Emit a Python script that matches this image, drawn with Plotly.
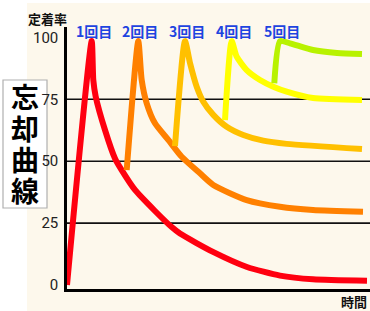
import plotly.graph_objects as go

# ---- data (time units, retention %) ----
red_x = [0, 24.7, 26.3, 28.7, 38, 48, 54.7, 68, 88, 104.7, 113, 146, 180, 213, 246, 300]
red_y = [0, 98.5, 82.8, 76.1, 62.6, 51.1, 46.4, 38.4, 29.9, 23.4, 20.8, 13.4, 7.3, 3.8, 2.3, 1.7]

orange_x = [59.7, 71.3, 74.7, 79.7, 88, 101.3, 114.7, 133, 146.3, 179.7, 213, 246, 296]
orange_y = [46.4, 98.5, 82.8, 73.4, 65.3, 58.6, 51.8, 45.1, 40.4, 34.3, 31.6, 30.3, 29.6]

amber_x = [108, 118, 123, 129.7, 136.3, 146.3, 159.7, 176.3, 196.3, 219.7, 295]
amber_y = [56.1, 98.5, 89.7, 80.1, 74.0, 68.7, 63.9, 60.6, 58.3, 57.0, 54.9]

yellow_x = [158, 164.7, 169.7, 179.7, 193, 206.3, 219.7, 246, 295]
yellow_y = [66.6, 98.5, 92.2, 86.8, 82.8, 80.1, 78.1, 75.5, 74.7]

green_x = [207.3, 213, 223, 246, 270, 295]
green_y = [81.5, 98.5, 97.6, 94.9, 93.7, 93.3]

series = [
    (red_x, red_y, "#FF0010"),
    (orange_x, orange_y, "#FF8000"),
    (amber_x, amber_y, "#FFC000"),
    (yellow_x, yellow_y, "#FFFF00"),
    (green_x, green_y, "#B8F200"),
]

review_labels = ["1回目", "2回目", "3回目", "4回目", "5回目"]
y_ticks = [0, 25, 50, 75, 100]
grid_vals = [25, 50, 75]
title_chars = ["忘", "却", "曲", "線"]

fig = go.Figure()
for xs, ys, c in series:
    fig.add_trace(go.Scatter(x=xs, y=ys, mode="lines",
                             line=dict(color=c, width=6, shape="spline", smoothing=0.6),
                             hoverinfo="skip", showlegend=False))

W, H = 370, 311
L, R, T, B = 67, 0, 27, 22
pw, ph = W - L - R, H - T - B

def px2x(px):
    return (px - L) / pw

def px2y(py):
    return (H - B - py) / ph

shapes = []
# cream panel
shapes.append(dict(type="rect", xref="paper", yref="paper",
                   x0=px2x(27), x1=px2x(372), y0=px2y(313), y1=px2y(3),
                   fillcolor="#FDF8EC", line=dict(width=0), layer="below"))
# title box
shapes.append(dict(type="rect", xref="paper", yref="paper",
                   x0=px2x(3), x1=px2x(47), y0=px2y(208), y1=px2y(80),
                   fillcolor="#FFFFFF", line=dict(color="#B0B0B0", width=1.2),
                   layer="below"))
for v in grid_vals:
    shapes.append(dict(type="line", xref="paper", yref="y", x0=px2x(64), x1=1,
                       y0=v, y1=v, line=dict(color="#111111", width=1.6), layer="below"))

annotations = []
for (xs, ys, c), lab in zip(series, review_labels):
    peak_i = ys.index(max(ys))
    annotations.append(dict(x=xs[peak_i], y=px2y(31), xref="x", yref="paper",
                            text="<b>" + lab + "</b>", showarrow=False,
                            xshift=2,
                            font=dict(family="Noto Sans CJK JP", size=14, color="#1E44E0"),
                            xanchor="center", yanchor="middle"))
for ch, cy in zip(title_chars, [96, 128, 159, 190]):
    annotations.append(dict(x=px2x(25), y=px2y(cy), xref="paper", yref="paper",
                            text="<b>" + ch + "</b>", showarrow=False,
                            height=30, width=38, borderpad=0,
                            font=dict(family="Noto Sans CJK JP", size=28, color="#000000"),
                            xanchor="center", yanchor="middle"))
annotations.append(dict(x=px2x(47), y=px2y(18), xref="paper", yref="paper",
                        text="<b>定着率</b>", showarrow=False,
                        font=dict(family="Noto Sans CJK JP", size=13, color="#111111"),
                        xanchor="center", yanchor="middle"))
annotations.append(dict(x=px2x(354), y=px2y(301), xref="paper", yref="paper",
                        text="<b>時間</b>", showarrow=False,
                        font=dict(family="Noto Sans CJK JP", size=13, color="#111111"),
                        xanchor="center", yanchor="middle"))

fig.update_layout(
    width=W, height=H,
    margin=dict(l=L, r=R, t=T, b=B, pad=0),
    paper_bgcolor="#FFFFFF",
    plot_bgcolor="rgba(0,0,0,0)",
    shapes=shapes,
    annotations=annotations,
    xaxis=dict(range=[0, 303], showgrid=False, zeroline=False, showticklabels=False,
               ticks="", showline=True, linecolor="#000000", linewidth=3, fixedrange=True),
    yaxis=dict(range=[-1.6, 104.2], tickvals=y_ticks, ticktext=[str(v) for v in y_ticks],
               showgrid=False, zeroline=False, ticks="", showline=True,
               linecolor="#000000", linewidth=2.5,
               tickfont=dict(family="Roboto", size=15, color="#222222"),
               ticklabelstandoff=3, fixedrange=True),
)

fig.write_html("out.html", config={"displayModeBar": False},
               post_script="document.body.style.margin='0';document.body.style.padding='0';")
